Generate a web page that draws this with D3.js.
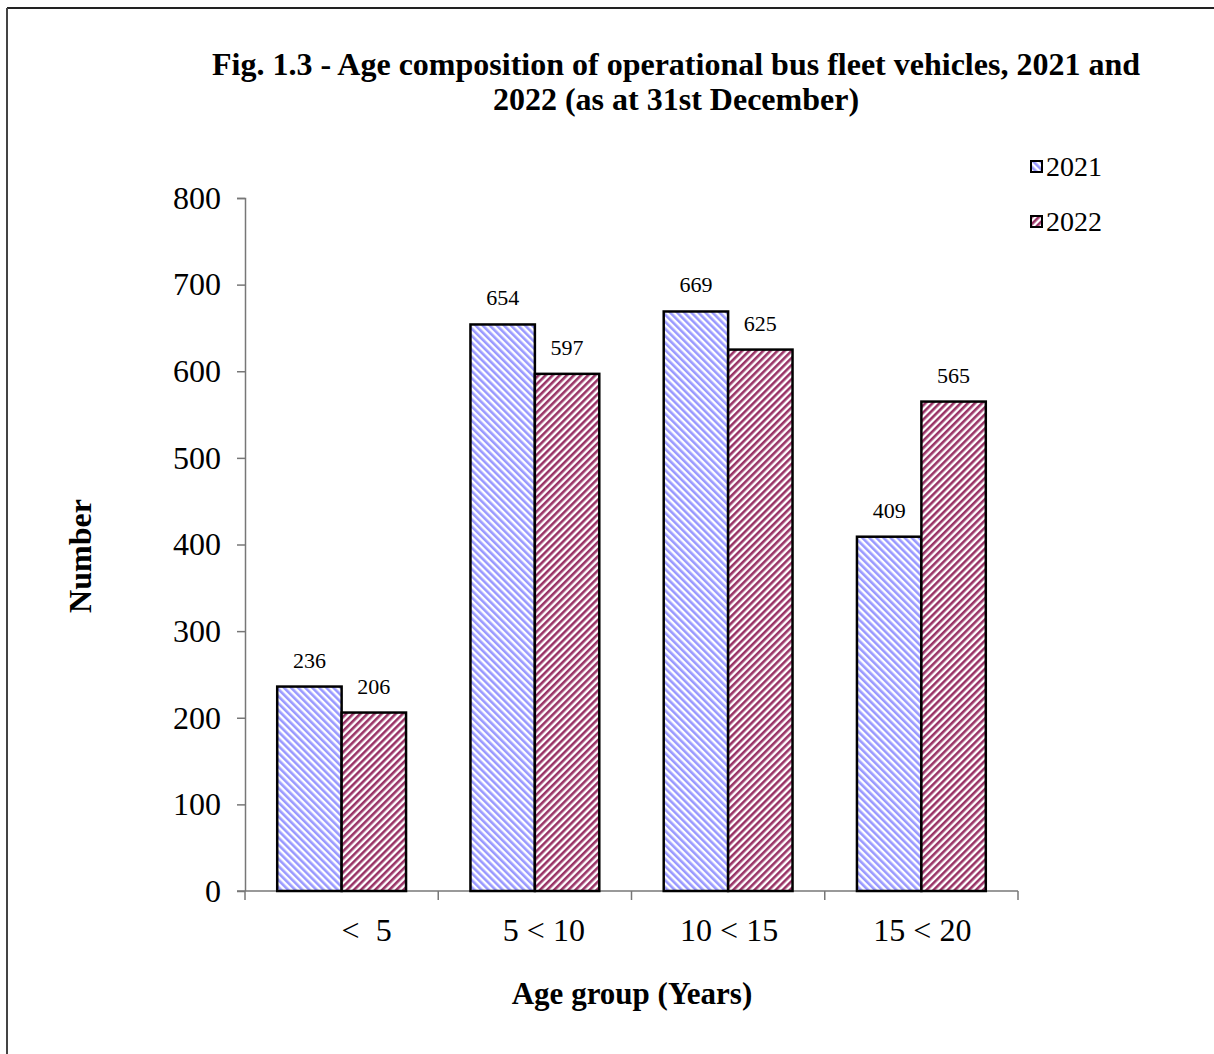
<!DOCTYPE html>
<html>
<head>
<meta charset="utf-8">
<script src="https://cdn.jsdelivr.net/npm/d3@7"></script>
<style>
  body { margin: 0; background: #fff; }
  text { font-family: "Liberation Serif", "Times New Roman", serif; }
</style>
</head>
<body>
<div id="chart-area"></div>
<script>
var categories = ["      <  5", "  5 < 10", "10 < 15", "15 < 20"];
var seriesNames = ["2021", "2022"];
var values2021 = [236, 654, 669, 409];
var values2022 = [206, 597, 625, 565];
var yTicks = [0, 100, 200, 300, 400, 500, 600, 700, 800];

var W = 1214, H = 1054;
var margin = { left: 245, right: 196, top: 198, bottom: 163 };
var width = W - margin.left - margin.right,
    height = H - margin.top - margin.bottom;

var svg = d3.select("#chart-area")
            .append("svg")
                .attr("width", W)
                .attr("height", H);

// patterns
var defs = svg.append("defs");
function stripes(id, color, angle) {
  var p = defs.append("pattern")
      .attr("id", id)
      .attr("patternUnits", "userSpaceOnUse")
      .attr("width", 5).attr("height", 5)
      .attr("patternTransform", "rotate(" + angle + ")");
  p.append("rect").attr("width", 5).attr("height", 5).attr("fill", "#fff");
  p.append("rect").attr("width", 2.6).attr("height", 5).attr("fill", color);
}
stripes("pat2021", "#9999ff", -45);
stripes("pat2022", "#993366", 45);
var fills = ["url(#pat2021)", "url(#pat2022)"];

// page frame (top and left edges)
svg.append("line").attr("x1", 7).attr("x2", W).attr("y1", 8).attr("y2", 8)
   .attr("stroke", "#222").attr("stroke-width", 2);
svg.append("line").attr("x1", 7).attr("x2", 7).attr("y1", 8).attr("y2", H)
   .attr("stroke", "#444").attr("stroke-width", 2);

var g = svg.append("g")
    .attr("transform", "translate(" + margin.left + ", " + margin.top + ")");

// X Scale
var x = d3.scaleBand()
    .domain(categories)
    .range([0, width]);

var x1 = d3.scaleBand()
    .domain(seriesNames)
    .range([0, x.bandwidth()])
    .paddingOuter(0.5);

// Y Scale
var y = d3.scaleLinear()
    .domain([0, 800])
    .range([height, 0]);

// Y Axis
var yAxisGroup = g.append("g")
    .call(d3.axisLeft(y).tickValues(yTicks).tickSize(8).tickPadding(16));
yAxisGroup.select(".domain").attr("stroke", "#777").attr("stroke-width", 1.5)
    .attr("d", "M-8,0.5H0.5V" + height);
yAxisGroup.selectAll(".tick line").attr("stroke", "#777").attr("stroke-width", 1.5);
yAxisGroup.selectAll(".tick text").attr("font-size", "32px").attr("fill", "#000");

// X Axis
var xAxisGroup = g.append("g")
    .attr("transform", "translate(0," + height + ")");
xAxisGroup.append("line")
    .attr("x1", -8).attr("x2", width)
    .attr("stroke", "#777").attr("stroke-width", 1.5);
xAxisGroup.selectAll(".sep")
    .data(categories.concat([null]))
    .enter().append("line")
    .attr("class", "sep")
    .attr("x1", function(d, i) { return i * x.step(); })
    .attr("x2", function(d, i) { return i * x.step(); })
    .attr("y1", 0).attr("y2", 9)
    .attr("stroke", "#777").attr("stroke-width", 1.5);
xAxisGroup.selectAll(".xl")
    .data(categories)
    .enter().append("text")
    .attr("class", "xl")
    .attr("x", function(d) { return x(d) + x.bandwidth() / 2 + 1; })
    .attr("y", 50)
    .attr("text-anchor", "middle")
    .attr("font-size", "32px")
    .style("white-space", "pre")
    .attr("xml:space", "preserve")
    .text(function(d) { return d; });

// Bars
var rows = categories.map(function(c, i) {
  return { cat: c, vals: [values2021[i], values2022[i]] };
});

var groups = g.selectAll(".grp")
    .data(rows)
    .enter().append("g")
    .attr("class", "grp")
    .attr("transform", function(d) { return "translate(" + x(d.cat) + ",0)"; });

groups.selectAll("rect")
    .data(function(d) { return d.vals.map(function(v, j) { return { s: seriesNames[j], v: v, j: j }; }); })
    .enter().append("rect")
    .attr("x", function(d) { return x1(d.s); })
    .attr("y", function(d) { return y(d.v); })
    .attr("width", x1.bandwidth())
    .attr("height", function(d) { return height - y(d.v); })
    .attr("fill", function(d) { return fills[d.j]; })
    .attr("stroke", "#000")
    .attr("stroke-width", 2.5);

groups.selectAll(".val")
    .data(function(d) { return d.vals.map(function(v, j) { return { s: seriesNames[j], v: v }; }); })
    .enter().append("text")
    .attr("class", "val")
    .attr("x", function(d) { return x1(d.s) + x1.bandwidth() / 2; })
    .attr("y", function(d) { return y(d.v) - 19; })
    .attr("text-anchor", "middle")
    .attr("font-size", "22px")
    .text(function(d) { return d.v; });

// Title
var title = svg.append("text")
    .attr("x", 676)
    .attr("y", 75)
    .attr("text-anchor", "middle")
    .attr("font-size", "32px")
    .attr("font-weight", "bold");
title.append("tspan").attr("x", 676).text("Fig. 1.3 - Age composition of operational bus fleet vehicles, 2021 and");
title.append("tspan").attr("x", 676).attr("dy", 35).text("2022 (as at 31st December)");

// Y Label
svg.append("text")
    .attr("x", -556)
    .attr("y", 91)
    .attr("font-size", "32px")
    .attr("font-weight", "bold")
    .attr("text-anchor", "middle")
    .attr("transform", "rotate(-90)")
    .text("Number");

// X Label
svg.append("text")
    .attr("x", 632)
    .attr("y", 1004)
    .attr("font-size", "31px")
    .attr("font-weight", "bold")
    .attr("text-anchor", "middle")
    .text("Age group (Years)");

// Legend
var legend = svg.selectAll(".leg")
    .data(seriesNames)
    .enter().append("g")
    .attr("class", "leg")
    .attr("transform", function(d, i) { return "translate(1031," + (161 + i * 55) + ")"; });
legend.append("rect")
    .attr("width", 11).attr("height", 11)
    .attr("fill", function(d, i) { return fills[i]; })
    .attr("stroke", "#000").attr("stroke-width", 2);
legend.append("text")
    .attr("x", 15).attr("y", 15)
    .attr("font-size", "28px")
    .text(function(d) { return d; });
</script>
</body>
</html>
